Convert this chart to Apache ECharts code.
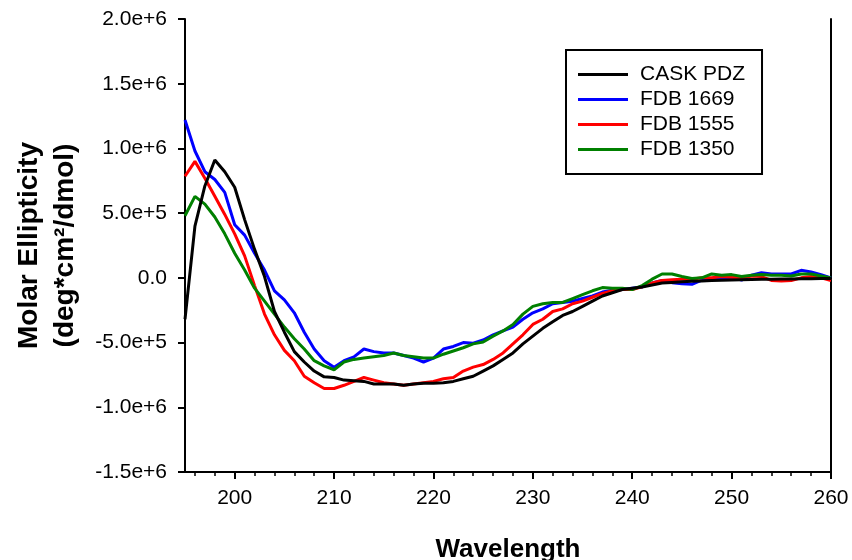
<!DOCTYPE html>
<html>
<head>
<meta charset="utf-8">
<script src="https://cdn.jsdelivr.net/npm/echarts@6/dist/echarts.min.js"></script>
<style>
  html, body { margin: 0; padding: 0; background: #fff; }
  #chart { width: 852px; height: 560px; }
</style>
</head>
<body>
<div id="chart"></div>
<script>
// wavelength grid (nm)
const wavelengths = [
  195, 196, 197, 198, 199, 200, 201, 202, 203, 204, 205, 206, 207, 208, 209, 210,
  211, 212, 213, 214, 215, 216, 217, 218, 219, 220, 221, 222, 223, 224, 225, 226,
  227, 228, 229, 230, 231, 232, 233, 234, 235, 236, 237, 238, 239, 240, 241, 242,
  243, 244, 245, 246, 247, 248, 249, 250, 251, 252, 253, 254, 255, 256, 257, 258,
  259, 260
]

// molar ellipticity, in units of 1e6 deg*cm2/dmol
const caskPdz = [
  -0.32, 0.40, 0.71, 0.91, 0.82, 0.70, 0.45, 0.22, 0.01, -0.26, -0.42, -0.57, -0.65, -0.72, -0.765, -0.77,
  -0.79, -0.795, -0.80, -0.82, -0.82, -0.82, -0.83, -0.82, -0.815, -0.815, -0.81, -0.80, -0.78, -0.76, -0.72, -0.68,
  -0.63, -0.58, -0.51, -0.45, -0.39, -0.34, -0.29, -0.26, -0.22, -0.18, -0.14, -0.115, -0.09, -0.08, -0.07, -0.055,
  -0.04, -0.035, -0.03, -0.027, -0.024, -0.02, -0.018, -0.016, -0.014, -0.012, -0.01, -0.01, -0.008, -0.008, -0.006, -0.006,
  -0.005, -0.005
]
const fdb1669 = [
  1.22, 0.98, 0.82, 0.76, 0.66, 0.41, 0.33, 0.19, 0.06, -0.10, -0.17, -0.27, -0.42, -0.55, -0.64, -0.69,
  -0.64, -0.61, -0.55, -0.57, -0.58, -0.58, -0.60, -0.62, -0.65, -0.62, -0.55, -0.53, -0.50, -0.505, -0.48, -0.44,
  -0.41, -0.38, -0.32, -0.27, -0.24, -0.20, -0.19, -0.18, -0.16, -0.14, -0.11, -0.095, -0.09, -0.08, -0.07, -0.04,
  -0.02, -0.037, -0.045, -0.05, -0.017, -0.005, 0.0, 0.005, -0.017, 0.02, 0.04, 0.03, 0.03, 0.03, 0.058, 0.045,
  0.025, 0.0
]
const fdb1555 = [
  0.785, 0.90, 0.77, 0.63, 0.49, 0.34, 0.17, -0.06, -0.28, -0.44, -0.56, -0.64, -0.76, -0.81, -0.855, -0.855,
  -0.83, -0.80, -0.77, -0.79, -0.81, -0.82, -0.83, -0.82, -0.81, -0.80, -0.78, -0.77, -0.72, -0.69, -0.67, -0.63,
  -0.58, -0.51, -0.44, -0.36, -0.32, -0.26, -0.24, -0.20, -0.18, -0.15, -0.12, -0.10, -0.09, -0.09, -0.07, -0.04,
  -0.02, -0.015, -0.01, -0.01, 0.0, 0.0, 0.01, 0.005, 0.0, 0.015, 0.01, -0.02, -0.025, -0.02, 0.0, 0.01,
  0.0, -0.02
]
const fdb1350 = [
  0.48, 0.63, 0.57, 0.47, 0.34, 0.19, 0.06, -0.08, -0.18, -0.28, -0.38, -0.47, -0.55, -0.64, -0.68, -0.71,
  -0.65, -0.63, -0.62, -0.61, -0.60, -0.58, -0.60, -0.61, -0.62, -0.62, -0.59, -0.565, -0.54, -0.51, -0.495, -0.45,
  -0.41, -0.36, -0.28, -0.22, -0.20, -0.19, -0.19, -0.16, -0.13, -0.10, -0.075, -0.08, -0.08, -0.09, -0.06, -0.01,
  0.03, 0.03, 0.01, -0.005, 0.0, 0.03, 0.02, 0.025, 0.01, 0.02, 0.025, 0.02, 0.02, 0.015, 0.03, 0.03,
  0.015, 0.0
]

const seriesNames = ['CASK PDZ', 'FDB 1669', 'FDB 1555', 'FDB 1350']
const xMajorTicks = [200, 210, 220, 230, 240, 250, 260]
const xMinorTicks = [
  196, 198, 202, 204, 206, 208, 212, 214, 216, 218, 222, 224, 226, 228,
  232, 234, 236, 238, 242, 244, 246, 248, 252, 254, 256, 258
]

const FONT = 'Liberation Sans, Arial, sans-serif'

const toPoints = (vals) => wavelengths.map((w, i) => [w, vals[i] * 1e6])

const formatY = (v) => (v === 0 ? '0.0' : v.toExponential(1))

const chart = echarts.init(document.getElementById('chart'), null, { renderer: 'canvas' })

const makeLine = (name, vals, color, z) => ({
  name,
  type: 'line',
  data: toPoints(vals),
  xAxisIndex: 0,
  yAxisIndex: 0,
  symbol: 'none',
  smooth: false,
  z,
  lineStyle: { color, width: 3 },
  itemStyle: { color },
})

const option = {
  backgroundColor: '#fff',
  animation: false,
  textStyle: { fontFamily: FONT },
  legend: {
    data: seriesNames,
    orient: 'vertical',
    left: 566,
    top: 50,
    padding: [14, 17, 14, 12],
    itemGap: 4,
    itemWidth: 50,
    itemHeight: 3,
    icon: 'rect',
    borderColor: '#000',
    borderWidth: 2,
    textStyle: { fontSize: 21, color: '#000', fontFamily: FONT, padding: [0, 0, 0, 7] },
  },
  grid: [
    { left: 185, right: 21, top: 19, bottom: 88, containLabel: false, outerBoundsMode: 'none' },
    { left: 185, right: 21, top: 19, bottom: 88, containLabel: false, outerBoundsMode: 'none' },
  ],
  xAxis: [
    {
      type: 'value',
      gridIndex: 0,
      min: 195,
      max: 260,
      position: 'bottom',
      name: 'Wavelength',
      nameLocation: 'middle',
      nameGap: 65,
      nameTextStyle: { fontSize: 26, fontWeight: 'bold', color: '#000', fontFamily: FONT },
      axisLine: { show: true, onZero: false, lineStyle: { color: '#000', width: 2 } },
      axisTick: { show: true, length: 7, customValues: xMajorTicks, lineStyle: { color: '#000', width: 2 } },
      axisLabel: { show: true, customValues: xMajorTicks, margin: 16, fontSize: 21, color: '#000', fontFamily: FONT },
      splitLine: { show: false },
    },
    {
      type: 'value',
      gridIndex: 1,
      min: 195,
      max: 260,
      position: 'bottom',
      axisLine: { show: false, onZero: false },
      axisTick: { show: true, length: 4, customValues: xMinorTicks, lineStyle: { color: '#000', width: 1.5 } },
      axisLabel: { show: false },
      splitLine: { show: false },
    },
  ],
  yAxis: [
    {
      type: 'value',
      gridIndex: 0,
      min: -1.5e6,
      max: 2e6,
      interval: 5e5,
      position: 'left',
      name: 'Molar Ellipticity\n(deg*cm²/dmol)',
      nameLocation: 'middle',
      nameRotate: 90,
      nameGap: 102,
      nameTextStyle: { fontSize: 28, fontWeight: 'bold', color: '#000', lineHeight: 36, fontFamily: FONT },
      axisLine: { show: true, onZero: false, lineStyle: { color: '#000', width: 2 } },
      axisTick: { show: true, length: 7, lineStyle: { color: '#000', width: 2 } },
      axisLabel: { margin: 18, fontSize: 21, color: '#000', fontFamily: FONT, formatter: formatY },
      splitLine: { show: false },
    },
    {
      type: 'value',
      gridIndex: 0,
      min: -1.5e6,
      max: 2e6,
      interval: 5e5,
      position: 'right',
      axisLine: { show: true, onZero: false, lineStyle: { color: '#000', width: 2 } },
      axisTick: { show: false },
      axisLabel: { show: false },
      splitLine: { show: false },
    },
    {
      type: 'value',
      gridIndex: 1,
      min: -1.5e6,
      max: 2e6,
      show: false,
    },
  ],
  series: [
    makeLine(seriesNames[0], caskPdz, '#000000', 5),
    makeLine(seriesNames[1], fdb1669, '#0000ff', 2),
    makeLine(seriesNames[2], fdb1555, '#ff0000', 3),
    makeLine(seriesNames[3], fdb1350, '#008000', 4),
  ],
}

chart.setOption(option)
</script>
</body>
</html>
